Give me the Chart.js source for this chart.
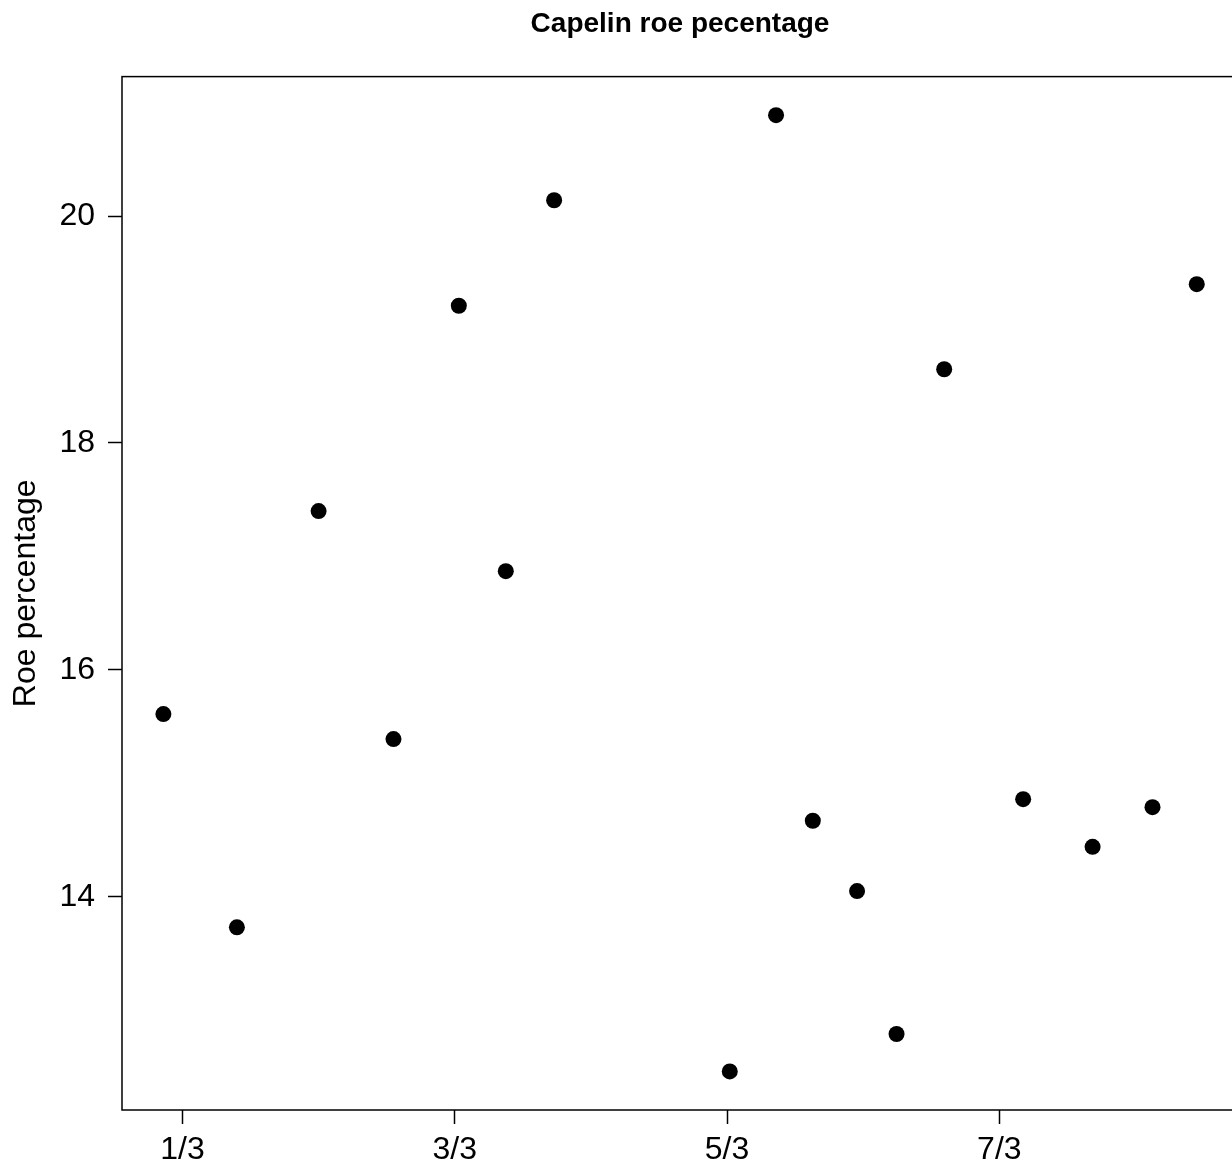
<!DOCTYPE html>
<html>
<head>
<meta charset="utf-8">
<title>Capelin roe pecentage</title>
<script src="https://cdn.jsdelivr.net/npm/chart.js"></script>
<style>
  html, body { margin: 0; padding: 0; background: #fff; overflow: hidden; }
  canvas { display: block; }
</style>
</head>
<body>
<canvas id="roeChart" width="1246" height="1168"></canvas>
<script>
// day of March (fractional) for each sample
const sampleDays = [0.86, 1.40, 2.00, 2.55, 3.03, 3.375, 3.73, 5.02, 5.36, 5.63, 5.955, 6.245, 6.595, 7.175, 7.685, 8.125, 8.45];
const roePct = [15.61, 13.73, 17.40, 15.39, 19.21, 16.87, 20.14, 12.46, 20.89, 14.67, 14.05, 12.79, 18.65, 14.86, 14.44, 14.79, 19.40];

const xTickDays = [1, 3, 5, 7];
const xTickLabels = ['1/3', '3/3', '5/3', '7/3'];
const yTicks = [14, 16, 18, 20];

const FONT = "'Liberation Sans', Arial, sans-serif";

const boxPlugin = {
    id: 'box',
    afterDraw(chart) {
        const a = chart.chartArea;
        const ctx = chart.ctx;
        ctx.save();
        ctx.strokeStyle = '#000';
        ctx.lineWidth = 1.5;
        ctx.strokeRect(a.left, a.top, a.right - a.left, a.bottom - a.top);
        ctx.restore();
    }
};

const points = sampleDays.map((d, i) => ({x: d, y: roePct[i]}));

const roeChart = new Chart(
        document.getElementById('roeChart'),
        {
            type: 'scatter',
            data: {
                datasets: [{
                    label: 'Roe percentage',
                    data: points,
                    backgroundColor: '#000',
                    borderColor: '#000',
                    pointRadius: 8,
                    pointBorderWidth: 0,
                }]
            },
            options: {
                responsive: false,
                animation: false,
                layout: {
                    padding: {left: 0, right: 4, top: 0, bottom: 0}
                },
                plugins: {
                    legend: {display: false},
                    tooltip: {enabled: false},
                    title: {
                        display: true,
                        text: 'Capelin roe pecentage',
                        fullSize: false,
                        color: '#000',
                        font: {family: FONT, size: 28, weight: 'bold', lineHeight: 1.2},
                        padding: {top: 7, bottom: 36}
                    }
                },
                scales: {
                    x: {
                        type: 'linear',
                        min: 0.556,
                        max: 8.753,
                        afterFit: (scale) => { scale.height = 58; },
                        afterBuildTicks: (scale) => {
                            scale.ticks = xTickDays.map(v => ({value: v}));
                        },
                        ticks: {
                            color: '#000',
                            font: {family: FONT, size: 32},
                            padding: 7,
                            maxRotation: 0,
                            autoSkip: false,
                            callback: (v) => xTickLabels[xTickDays.indexOf(v)]
                        },
                        grid: {
                            drawOnChartArea: false,
                            drawTicks: true,
                            tickLength: 14,
                            tickColor: '#000',
                            tickWidth: 1.5
                        },
                        border: {display: false}
                    },
                    y: {
                        type: 'linear',
                        min: 12.12,
                        max: 21.23,
                        afterFit: (scale) => { scale.width = 122; },
                        afterBuildTicks: (scale) => {
                            scale.ticks = yTicks.map(v => ({value: v}));
                        },
                        ticks: {
                            color: '#000',
                            font: {family: FONT, size: 32},
                            padding: 13,
                            autoSkip: false
                        },
                        grid: {
                            drawOnChartArea: false,
                            drawTicks: true,
                            tickLength: 14,
                            tickColor: '#000',
                            tickWidth: 1.5
                        },
                        border: {display: false},
                        title: {
                            display: true,
                            text: 'Roe percentage',
                            color: '#000',
                            font: {family: FONT, size: 32, lineHeight: 1.2},
                            padding: {top: 7, bottom: 0}
                        }
                    }
                }
            },
            plugins: [boxPlugin]
        });
</script>
</body>
</html>
